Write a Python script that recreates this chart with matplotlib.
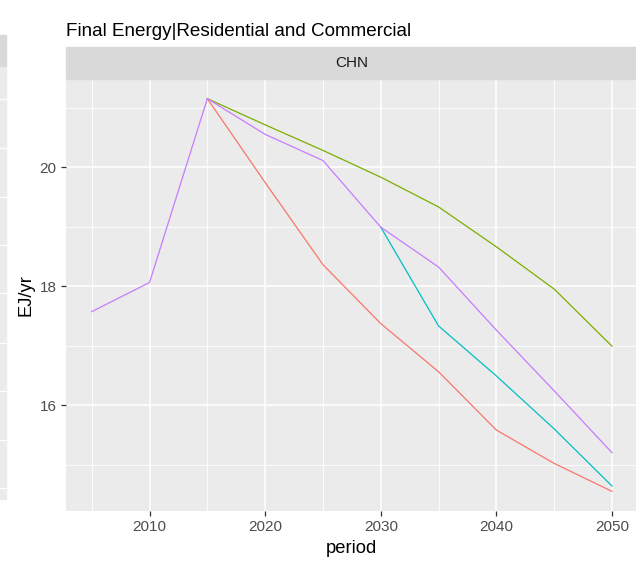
import numpy as np
import matplotlib
matplotlib.use("Agg")
import matplotlib.pyplot as plt
from matplotlib.patches import Rectangle

plt.rcParams['font.family'] = ['Liberation Sans', 'DejaVu Sans']

# datos (EJ/yr); nan = la serie aun no se separa de la historica
nan = np.nan
periodos = [2005, 2010, 2015, 2020, 2025, 2030, 2035, 2040, 2045, 2050]
rojo    = [nan, nan, 21.15, 19.74, 18.36, 17.37, 16.56, 15.58, 15.02, 14.55]
verde   = [nan, nan, 21.15, 20.71, 20.28, 19.83, 19.33, 18.66, 17.95, 16.99]
cian    = [nan, nan, nan, nan, nan, 18.99, 17.33, 16.49, 15.60, 14.64]
morado  = [17.57, 18.06, 21.15, 20.55, 20.11, 18.99, 18.32, 17.26, 16.24, 15.20]
series = [rojo, verde, cian, morado]
colores = ['#F8766D', '#7CAE00', '#00BFC4', '#C77CFF']

x_ticks = [2010, 2020, 2030, 2040, 2050]
x_minor = [2005, 2015, 2025, 2035, 2045]
y_ticks = [16, 18, 20]
y_minor = [15, 17, 19, 21]

W, H = 636, 562
fig = plt.figure(figsize=(W / 100, H / 100), dpi=100)

def fx(px): return px / W
def fy(py): return 1 - py / H

# trozo del panel vecino a la izquierda
fig.patches.append(Rectangle((0, fy(67)), fx(6), fy(35) - fy(67),
                             transform=fig.transFigure, color='#D9D9D9', zorder=0))
fig.patches.append(Rectangle((0, fy(499)), fx(6), fy(67) - fy(499),
                             transform=fig.transFigure, color='#EBEBEB', zorder=0))
for py in [99, 148, 197, 245, 293, 343, 391, 440, 488]:
    fig.add_artist(plt.Line2D([0, fx(6)], [fy(py), fy(py)], transform=fig.transFigure,
                              color='white', lw=0.9))

# panel principal
left, right, top, bottom = 65.7, 638, 79, 511
ax = fig.add_axes([fx(left), fy(bottom), fx(right - left), fy(top) - fy(bottom)])
ax.set_facecolor('#EBEBEB')
for s in ax.spines.values():
    s.set_visible(False)

for serie, c in zip(series, colores):
    ax.plot(periodos, serie, color=c, lw=0.9, zorder=3)

todos = np.concatenate([np.array(s) for s in series])
ymin, ymax = np.nanmin(todos), np.nanmax(todos)
pad = 0.05 * (ymax - ymin)
ax.set_ylim(ymin - pad, ymax + pad)
xpad = 0.05 * (max(periodos) - min(periodos))
ax.set_xlim(min(periodos) - xpad, max(periodos) + xpad)

ax.set_xticks(x_ticks)
ax.set_xticks(x_minor, minor=True)
ax.set_yticks(y_ticks)
ax.set_yticks(y_minor, minor=True)
ax.grid(which='major', color='white', lw=1.1)
ax.grid(which='minor', color='white', lw=0.6)
ax.set_axisbelow(True)
ax.tick_params(which='major', length=3.5, width=0.9, color='#333333',
               labelsize=11, labelcolor='#4D4D4D', pad=3)
ax.tick_params(which='minor', length=0)

ax.set_xlabel('period', fontsize=13.2, color='black', labelpad=4)
ax.set_ylabel('EJ/yr', fontsize=13.2, color='black', labelpad=4)

# tira del facet
fig.patches.append(Rectangle((fx(left), fy(top)), 1 - fx(left), fy(47) - fy(top),
                             transform=fig.transFigure, color='#D9D9D9', zorder=1))
fig.text(fx((left + right) / 2), fy(63), 'CHN', ha='center', va='center',
         fontsize=11, color='#1A1A1A')

fig.text(fx(66), fy(31), 'Final Energy|Residential and Commercial', ha='left',
         va='center', fontsize=13.6, color='black')

fig.savefig('out.png', dpi=100)
